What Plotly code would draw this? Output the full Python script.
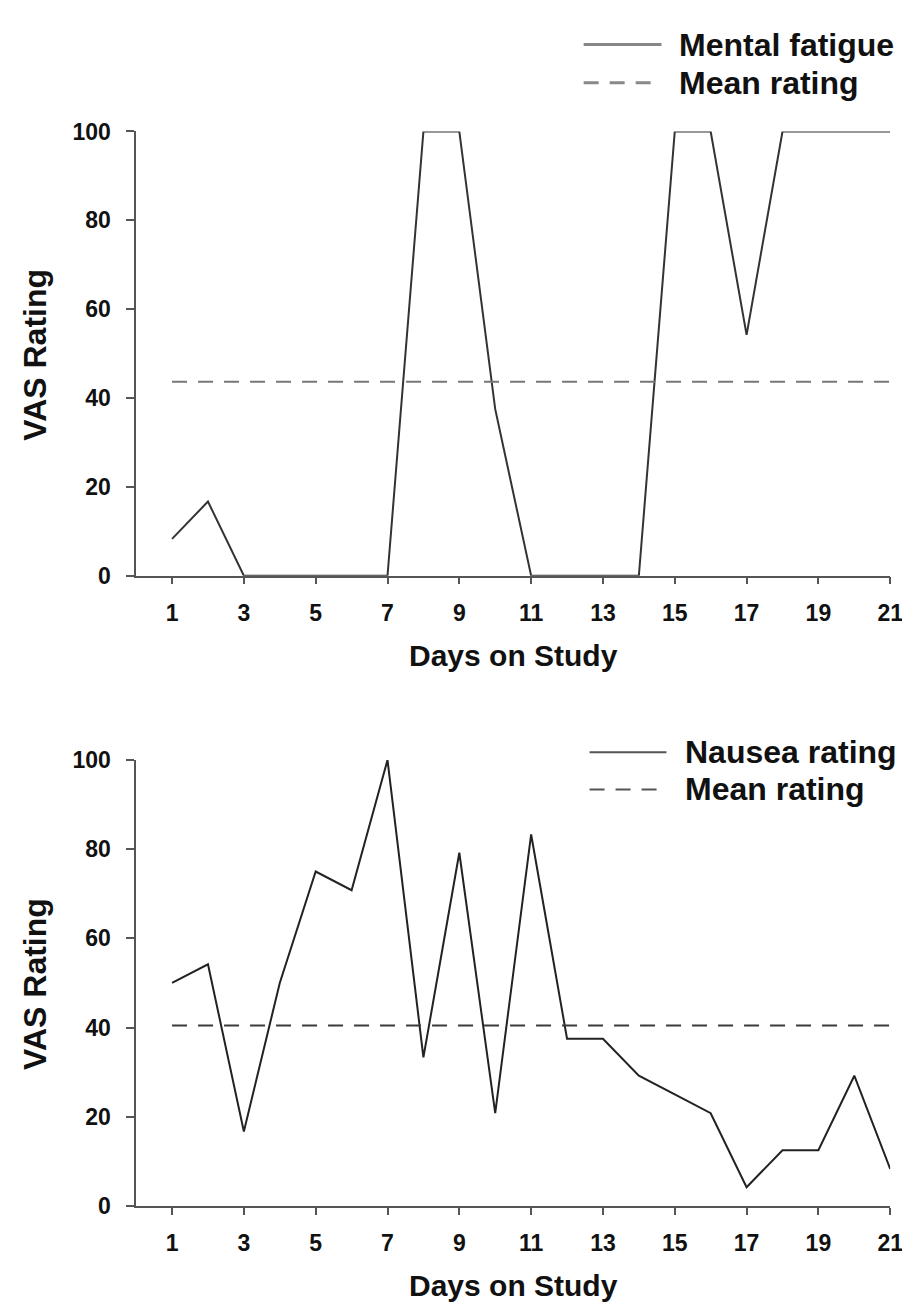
import numpy as np
import plotly.graph_objects as go

days = list(range(1, 22))
mental_fatigue = [8.3, 16.7, 0, 0, 0, 0, 0, 100, 100, 37.5, 0, 0, 0, 0,
                  100, 100, 54.2, 100, 100, 100, 100]
nausea = [50, 54.2, 16.7, 50, 75, 70.8, 100, 33.3, 79.2, 20.8, 83.3,
          37.5, 37.5, 29.2, 25, 20.8, 4.2, 12.5, 12.5, 29.2, 8.3]
mean_fatigue = float(np.mean(mental_fatigue))
mean_nausea = float(np.mean(nausea))

x_ticks = list(range(1, 22, 2))
y_ticks = [0, 20, 40, 60, 80, 100]

W, H = 910, 1307
FONT = "Liberation Sans, Arial, sans-serif"

fig = go.Figure()

# top panel
fig.add_trace(go.Scatter(x=days, y=mental_fatigue, mode="lines",
                         line=dict(color="#333333", width=2),
                         xaxis="x", yaxis="y", showlegend=False))
fig.add_trace(go.Scatter(x=[days[0], days[-1]], y=[mean_fatigue, mean_fatigue],
                         mode="lines",
                         line=dict(color="#777777", width=2, dash="15px,11px"),
                         xaxis="x", yaxis="y", showlegend=False))
# bottom panel
fig.add_trace(go.Scatter(x=days, y=nausea, mode="lines",
                         line=dict(color="#222222", width=2),
                         xaxis="x2", yaxis="y2", showlegend=False))
fig.add_trace(go.Scatter(x=[days[0], days[-1]], y=[mean_nausea, mean_nausea],
                         mode="lines",
                         line=dict(color="#3a3a3a", width=2, dash="15px,11px"),
                         xaxis="x2", yaxis="y2", showlegend=False))

def px_x(p):
    return p / W

def px_y(p):
    return 1 - p / H

xdom = [px_x(130), px_x(895)]
top_dom = [px_y(566), px_y(112.7)]
bot_dom = [px_y(1209), px_y(754)]

axis_common = dict(showgrid=False, zeroline=False, showline=True,
                   linecolor="#555555", linewidth=1.5,
                   ticks="outside", tickcolor="#555555", tickwidth=1.5,
                   tickfont=dict(family=FONT, size=23, color="#111111", weight="bold"))

xa = dict(axis_common, range=[0, 21], tickvals=x_ticks, ticklen=7,
          ticklabelstandoff=9, domain=xdom)
ya = dict(axis_common, range=[0, 100], tickvals=y_ticks, ticklen=8,
          ticklabelstandoff=11)

fig.update_layout(
    width=W, height=H,
    margin=dict(l=0, r=0, t=0, b=0),
    paper_bgcolor="white", plot_bgcolor="white",
    xaxis=dict(xa, anchor="y"),
    yaxis=dict(ya, domain=top_dom, anchor="x"),
    xaxis2=dict(xa, anchor="y2"),
    yaxis2=dict(ya, domain=bot_dom, anchor="x2"),
)

title_font = dict(family=FONT, size=32, color="#111111", weight="bold")
legend_font = dict(family=FONT, size=32, color="#111111", weight="bold")

annotations = [
    dict(text="VAS Rating", x=px_x(28), y=px_y(341), textangle=-90),
    dict(text="VAS Rating", x=px_x(28), y=px_y(983), textangle=-90),
    dict(text="Days on Study", x=px_x(513), y=px_y(647), font=dict(title_font, size=30)),
    dict(text="Days on Study", x=px_x(513), y=px_y(1290), font=dict(title_font, size=30)),
]
anns = []
for a in annotations:
    d = dict(xref="paper", yref="paper", showarrow=False,
             xanchor="center", yanchor="middle", font=title_font)
    d.update(a)
    anns.append(d)

legend_items = [
    ("Mental fatigue", 679, 24, "solid", "#888888", 584, 663, 3),
    ("Mean rating", 679, 63, "dash", "#888888", 584, 663, 3),
    ("Nausea rating", 685, 746, "solid", "#555555", 590, 668, 2),
    ("Mean rating", 685, 784, "dash", "#555555", 590, 668, 2),
]
shapes = []
for text, tx, ty, style, col, x0, x1, w in legend_items:
    anns.append(dict(xref="paper", yref="paper", showarrow=False,
                     x=px_x(tx), y=px_y(ty), xanchor="left", yanchor="middle",
                     text=text, font=legend_font))
    shapes.append(dict(type="line", xref="paper", yref="paper",
                       x0=px_x(x0), x1=px_x(x1), y0=px_y(ty), y1=px_y(ty),
                       line=dict(color=col, width=w,
                                 dash="solid" if style == "solid" else "15px,11px")))

fig.update_layout(annotations=anns, shapes=shapes)
fig.write_html("out.html")
